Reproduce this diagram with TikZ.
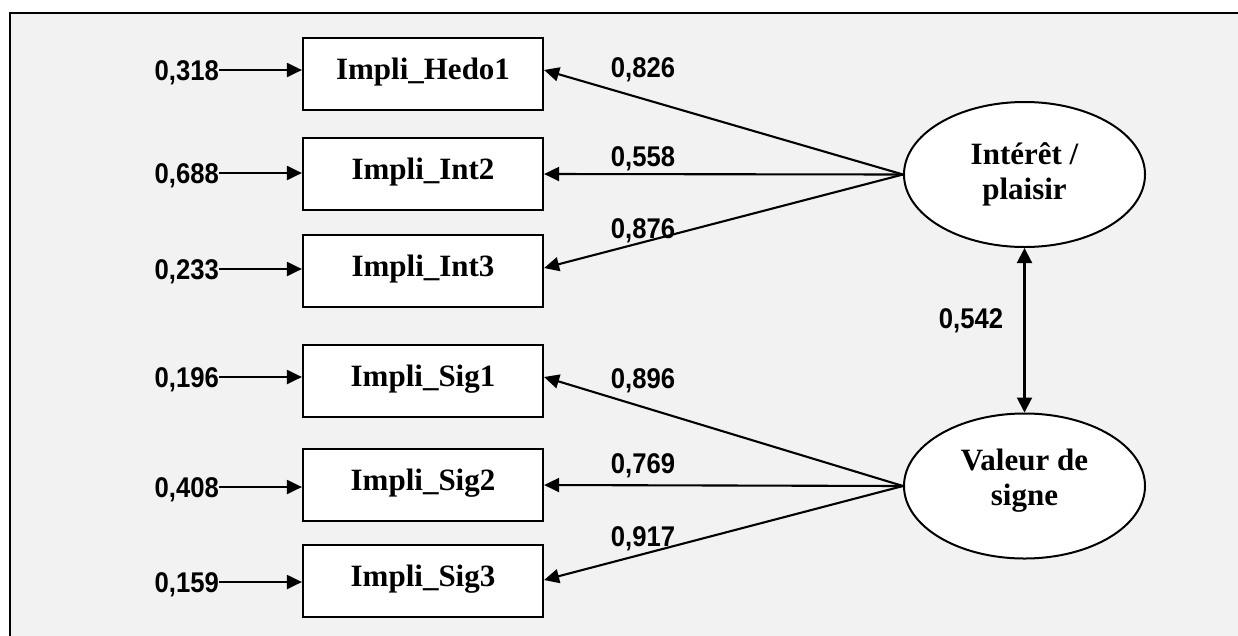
\documentclass[tikz,border=0pt]{standalone}
\usepackage{fontspec}
\setmainfont{Liberation Serif}
\newfontfamily\numfont[FakeStretch=0.9]{Liberation Sans}
\usetikzlibrary{arrows.meta,shapes.geometric}
\definecolor{bgc}{HTML}{F2F2F2}
\begin{document}
\begin{tikzpicture}[x=1pt,y=-1pt,
  box/.style={draw,line width=2.2pt,fill=white,minimum width=240pt,minimum height=72pt,inner sep=0pt,text height=41.5pt,text depth=30.5pt,font=\fontsize{31}{35}\selectfont\bfseries},
  lat/.style={draw,ellipse,line width=2pt,fill=white,minimum width=241pt,minimum height=145pt,inner sep=0pt,align=center,font=\fontsize{31}{35}\selectfont\bfseries},
  num/.style={inner sep=0pt,text height=20pt,text depth=0pt,font=\numfont\fontsize{28.5}{31}\selectfont\bfseries},
  conn/.style={line width=2.1pt,-{Triangle[length=15pt,width=14pt]}},
  dconn/.style={line width=2.1pt,{Triangle[length=15pt,width=15pt]}-{Triangle[length=15pt,width=15pt]}}]
\useasboundingbox (0,0) rectangle (1238,635);
\clip (0,0) rectangle (1238,635);
\fill[white] (0,0) rectangle (1238,635);
\fill[bgc] (10,13) rectangle (1260,660);
\draw[line width=2.4pt] (10,13) rectangle (1260,660);
% boxes
\node[box] (h1) at (423,74) {Impli\_Hedo1};
\node[box] (i2) at (423,174) {Impli\_Int2};
\node[box] (i3) at (423,271) {Impli\_Int3};
\node[box] (s1) at (423,381) {Impli\_Sig1};
\node[box] (s2) at (423,485) {Impli\_Sig2};
\node[box] (s3) at (423,581) {Impli\_Sig3};
% latent variables
\node[lat] (ip) at (1024.5,174.5) {Intérêt /\\plaisir};
\node[lat] (vs) at (1024.5,486) {Valeur de\\signe\rule[-18pt]{0pt}{0pt}};
% error terms
\node[num,anchor=east] (e1) at (219,70) {0,318};
\node[num,anchor=east] (e2) at (219,173) {0,688};
\node[num,anchor=east] (e3) at (219,269) {0,233};
\node[num,anchor=east] (e4) at (219,377) {0,196};
\node[num,anchor=east] (e5) at (219,487) {0,408};
\node[num,anchor=east] (e6) at (219,582) {0,159};
\foreach \e/\b in {e1/h1,e2/i2,e3/i3,e4/s1,e5/s2,e6/s3}
  \draw[conn] (\e.east) -- (\e.east -| \b.west);
% loadings
\draw[conn] (ip.west) -- ([yshift=4pt]h1.east);
\draw[conn] (ip.west) -- (i2.east);
\draw[conn] (ip.west) -- ([yshift=3pt]i3.east);
\draw[conn] (vs.west) -- ([yshift=4pt]s1.east);
\draw[conn] (vs.west) -- (s2.east);
\draw[conn] (vs.west) -- ([yshift=1pt]s3.east);
\node[num] (l1) at (643,67) {0,826};
\node[num] (l2) at (643,156) {0,558};
\node[num] (l3) at (643,228) {0,876};
\node[num] (l4) at (643,378) {0,896};
\node[num] (l5) at (643,463) {0,769};
\node[num] (l6) at (643,536) {0,917};
% correlation
\draw[dconn] (ip.south) -- (vs.north);
\node[num] (c1) at (971,318.5) {0,542};
\end{tikzpicture}
\end{document}
